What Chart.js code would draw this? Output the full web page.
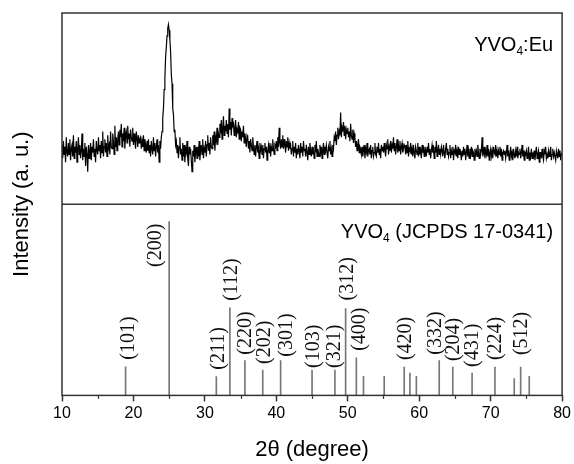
<!DOCTYPE html>
<html>
<head>
<meta charset="utf-8">
<script src="https://cdn.jsdelivr.net/npm/chart.js@4"></script>
<style>
  html, body { margin: 0; padding: 0; background: #fff; }
  #wrap { width: 574px; height: 464px; }
</style>
</head>
<body>
<div id="wrap"><canvas id="chartXrd"></canvas></div>
<script>
// measured pattern of the YVO4:Eu sample, one value per 0.1 deg from 10 to 80
const xrdStart = 10;
const xrdStep = 0.1;
const xrdCounts = [
  31, 24, 33, 26, 30, 22, 35, 27, 25, 32,
  26, 34, 23, 29, 31, 25, 36, 24, 30, 27,
  33, 22, 29, 35, 26, 31, 24, 28, 37, 23,
  29, 25, 32, 20, 30, 26, 17, 31, 24, 28,
  32, 23, 30, 27, 34, 25, 29, 22, 33, 28,
  26, 35, 28, 31, 24, 33, 27, 38, 25, 30,
  34, 27, 32, 25, 36, 29, 31, 26, 38, 30,
  29, 37, 33, 26, 41, 30, 35, 28, 34, 38,
  31, 39, 35, 42, 30, 37, 33, 40, 29, 36,
  38, 32, 41, 34, 37, 30, 39, 35, 33, 40,
  31, 37, 33, 29, 38, 35, 30, 36, 32, 34,
  35, 29, 33, 30, 36, 28, 34, 31, 27, 33,
  28, 34, 27, 31, 25, 33, 29, 26, 35, 28,
  32, 25, 30, 34, 27, 31, 22, 33, 29, 35,
  38, 45, 50, 60, 66, 77, 82, 88, 92, 94,
  91, 86, 80, 68, 63, 50, 47, 38, 39, 31,
  33, 27, 31, 24, 30, 35, 26, 29, 23, 32,
  25, 31, 22, 29, 27, 33, 24, 20, 30, 26,
  29, 23, 17, 28, 25, 31, 22, 27, 30, 24,
  30, 25, 33, 23, 28, 31, 26, 34, 24, 29,
  27, 33, 25, 31, 36, 28, 32, 26, 35, 30,
  29, 36, 31, 38, 28, 35, 33, 40, 31, 37,
  35, 42, 37, 44, 34, 40, 46, 36, 41, 38,
  44, 37, 42, 35, 50, 39, 43, 36, 45, 41,
  42, 36, 40, 44, 35, 39, 37, 43, 34, 40,
  39, 33, 38, 35, 41, 32, 37, 34, 30, 36,
  35, 29, 33, 27, 34, 31, 28, 35, 30, 26,
  31, 25, 30, 33, 27, 29, 24, 32, 28, 30,
  26, 31, 24, 29, 32, 27, 30, 23, 28, 31,
  27, 32, 25, 30, 28, 34, 29, 26, 31, 30,
  33, 28, 35, 30, 40, 32, 29, 34, 30, 36,
  29, 34, 31, 27, 33, 30, 35, 28, 32, 29,
  31, 26, 29, 33, 25, 30, 27, 32, 24, 29,
  26, 31, 28, 24, 32, 27, 30, 25, 33, 28,
  29, 25, 31, 27, 23, 30, 26, 32, 28, 25,
  30, 26, 28, 24, 31, 27, 33, 25, 29, 27,
  25, 31, 27, 30, 24, 29, 32, 26, 30, 28,
  31, 27, 24, 30, 28, 33, 26, 29, 25, 31,
  29, 35, 33, 38, 31, 36, 40, 34, 38, 36,
  48, 35, 40, 38, 43, 36, 41, 34, 39, 37,
  40, 35, 38, 33, 42, 36, 34, 39, 32, 37,
  35, 30, 33, 28, 31, 34, 27, 30, 29, 26,
  30, 25, 28, 31, 24, 29, 27, 32, 25, 28,
  29, 26, 31, 24, 28, 30, 25, 27, 32, 26,
  25, 30, 27, 32, 26, 29, 24, 31, 28, 30,
  27, 32, 28, 25, 31, 29, 34, 26, 30, 28,
  33, 27, 31, 29, 35, 28, 32, 26, 30, 34,
  27, 31, 28, 33, 26, 30, 32, 27, 29, 31,
  30, 26, 31, 27, 33, 25, 29, 28, 32, 26,
  29, 25, 31, 27, 24, 30, 28, 26, 32, 25,
  30, 26, 28, 24, 31, 27, 29, 25, 30, 28,
  25, 30, 27, 32, 26, 29, 24, 28, 31, 27,
  29, 24, 30, 27, 33, 25, 28, 31, 26, 29,
  26, 30, 28, 25, 31, 27, 24, 29, 32, 26,
  29, 25, 27, 31, 24, 28, 26, 30, 23, 28,
  27, 31, 25, 28, 24, 30, 26, 29, 27, 23,
  28, 25, 30, 26, 29, 23, 27, 31, 25, 28,
  24, 29, 26, 30, 25, 28, 27, 23, 29, 26,
  28, 25, 31, 27, 24, 29, 26, 28, 35, 25,
  27, 30, 24, 28, 26, 31, 25, 29, 23, 27,
  29, 25, 28, 24, 30, 27, 26, 31, 25, 28,
  24, 28, 26, 30, 25, 29, 23, 27, 28, 26,
  28, 24, 27, 31, 25, 28, 23, 26, 30, 25,
  27, 23, 29, 26, 24, 28, 25, 30, 24, 27,
  26, 29, 24, 27, 31, 25, 28, 23, 27, 26,
  28, 24, 26, 30, 23, 27, 25, 29, 24, 27,
  25, 28, 23, 27, 30, 24, 26, 28, 22, 27,
  27, 24, 29, 25, 23, 28, 26, 30, 24, 26,
  24, 28, 25, 27, 30, 23, 26, 29, 25, 27,
  27, 23, 28, 26, 24, 29, 25, 28, 23, 26,
  27
];

// JCPDS 17-0341 reference lines
const refAngles = [18.9, 25.0, 31.6, 33.5, 35.6, 38.1, 40.6, 45.0, 48.2, 49.7, 51.2, 52.2,
                   55.1, 57.9, 58.7, 59.6, 62.8, 64.7, 67.4, 70.6, 73.3, 74.2, 75.4];
const refIntensity = [16.5, 100, 10.8, 50.4, 20, 14.6, 20, 14.6, 14.6, 50, 21.6, 11,
                      11, 16.3, 12.9, 11, 20, 16.3, 12.9, 16.3, 9.7, 16.3, 11];
const refHkl = ['(101)', '(200)', '(211)', '(112)', '(220)', '(202)', '(301)', '(103)', '(321)', '(312)', '(400)', '',
                '', '(420)', '', '', '(332)', '(204)', '(431)', '(224)', '', '(512)', ''];

const xMajorTicks = [10, 20, 30, 40, 50, 60, 70, 80];
const xMinorTicks = [15, 25, 35, 45, 55, 65, 75];

const sans = "'Liberation Sans', Arial, sans-serif";
const serif = "'Liberation Serif', 'Times New Roman', serif";

// small nudges so the hkl labels sit like in the figure: [dx px, gap px above the line]
const hklNudge = {
  '(101)': [2, 7], '(211)': [1, 7], '(112)': [1, 7], '(220)': [0, 6], '(202)': [1, 6],
  '(301)': [5, 4], '(103)': [1, 2], '(321)': [-1, 2], '(312)': [1, 8], '(400)': [2, 7],
  '(420)': [1, 7], '(332)': [-4, 6], '(204)': [0, 6], '(431)': [0, 6], '(224)': [0, 7], '(512)': [0, 12]
};

const xrdPoints = xrdCounts.map((v, i) => ({ x: xrdStart + i * xrdStep, y: v }));
const refPoints = refAngles.map((a, i) => ({ x: a, y: refIntensity[i] }));

function drawSubText(ctx, parts, right, y, size) {
  // parts: [text, isSub]
  let total = 0;
  parts.forEach(p => {
    ctx.font = (p[1] ? Math.round(size * 0.62) : size) + 'px ' + sans;
    total += ctx.measureText(p[0]).width;
  });
  let x = right - total;
  parts.forEach(p => {
    ctx.font = (p[1] ? Math.round(size * 0.62) : size) + 'px ' + sans;
    ctx.fillText(p[0], x, p[1] ? y + size * 0.18 : y);
    x += ctx.measureText(p[0]).width;
  });
}

const decor = {
  id: 'decor',
  afterDraw(chart) {
    const ctx = chart.ctx;
    const area = chart.chartArea;
    const xs = chart.scales.x;
    const yTop = chart.scales.yTop;
    const yBot = chart.scales.yBot;
    ctx.save();

    // frame and divider
    ctx.strokeStyle = '#333';
    ctx.lineWidth = 1.5;
    ctx.strokeRect(area.left, area.top, area.right - area.left, area.bottom - area.top);
    ctx.beginPath();
    ctx.moveTo(area.left, yTop.bottom);
    ctx.lineTo(area.right, yTop.bottom);
    ctx.stroke();

    // minor ticks
    ctx.lineWidth = 1.2;
    xMinorTicks.forEach(t => {
      const px = Math.round(xs.getPixelForValue(t)) + 0.5;
      ctx.beginPath();
      ctx.moveTo(px, area.bottom);
      ctx.lineTo(px, area.bottom + 3.5);
      ctx.stroke();
    });

    // hkl labels
    ctx.fillStyle = '#111';
    ctx.font = '20px ' + serif;
    ctx.textBaseline = 'middle';
    refAngles.forEach((a, i) => {
      const lab = refHkl[i];
      if (!lab) return;
      const px = xs.getPixelForValue(a);
      const py = yBot.getPixelForValue(refIntensity[i]);
      ctx.save();
      if (lab === '(200)') {
        ctx.translate(px - 14, py + 2);
        ctx.rotate(-Math.PI / 2);
        ctx.textAlign = 'right';
      } else {
        const n = hklNudge[lab] || [0, 7];
        ctx.translate(px + n[0], py - n[1]);
        ctx.rotate(-Math.PI / 2);
        ctx.textAlign = 'left';
      }
      ctx.fillText(lab, 0, 1);
      ctx.restore();
    });

    // panel captions
    ctx.fillStyle = '#000';
    ctx.textAlign = 'left';
    ctx.textBaseline = 'alphabetic';
    drawSubText(ctx, [['YVO', false], ['4', true], [':Eu', false]], area.right - 9, yTop.top + 38, 20);
    drawSubText(ctx, [['YVO', false], ['4', true], [' (JCPDS 17-0341)', false]], area.right - 9, yBot.top + 34, 20);

    // y axis title
    ctx.save();
    ctx.translate(22, (area.top + area.bottom) / 2);
    ctx.rotate(-Math.PI / 2);
    ctx.textAlign = 'center';
    ctx.textBaseline = 'middle';
    ctx.font = '22px ' + sans;
    ctx.fillText('Intensity (a. u.)', 0, 0);
    ctx.restore();

    ctx.restore();
  }
};

new Chart(document.getElementById('chartXrd'), {
  type: 'line',
  data: {
    datasets: [{
      type: 'line',
      label: 'YVO4:Eu',
      data: xrdPoints,
      yAxisID: 'yTop',
      borderColor: '#000',
      borderWidth: 1.2,
      pointRadius: 0,
      tension: 0
    }, {
      type: 'bar',
      label: 'JCPDS 17-0341',
      data: refPoints,
      yAxisID: 'yBot',
      backgroundColor: '#777',
      borderWidth: 0,
      barThickness: 1
    }]
  },
  options: {
    responsive: true,
    maintainAspectRatio: false,
    animation: false,
    layout: { padding: { left: 62, right: 9, top: 13, bottom: 1 } },
    plugins: {
      legend: { display: false },
      tooltip: { enabled: false }
    },
    scales: {
      x: {
        type: 'linear',
        min: 10,
        max: 80,
        offset: false,
        afterBuildTicks: axis => { axis.ticks = xMajorTicks.map(v => ({ value: v })); },
        ticks: { color: '#000', font: { family: sans, size: 16 }, padding: 3, maxRotation: 0 },
        grid: { drawOnChartArea: false, offset: false, tickLength: 6, color: '#333', tickWidth: 1.5 },
        border: { display: false },
        title: {
          display: true,
          text: '2θ (degree)',
          color: '#000',
          font: { family: sans, size: 22 },
          padding: { top: 10, bottom: 0 }
        }
      },
      yBot: {
        type: 'linear',
        position: 'left',
        stack: 'panels',
        stackWeight: 1,
        min: 0,
        max: 110,
        display: false
      },
      yTop: {
        type: 'linear',
        position: 'left',
        stack: 'panels',
        stackWeight: 1,
        min: 0,
        max: 100,
        display: false
      }
    }
  },
  plugins: [decor]
});
</script>
</body>
</html>
